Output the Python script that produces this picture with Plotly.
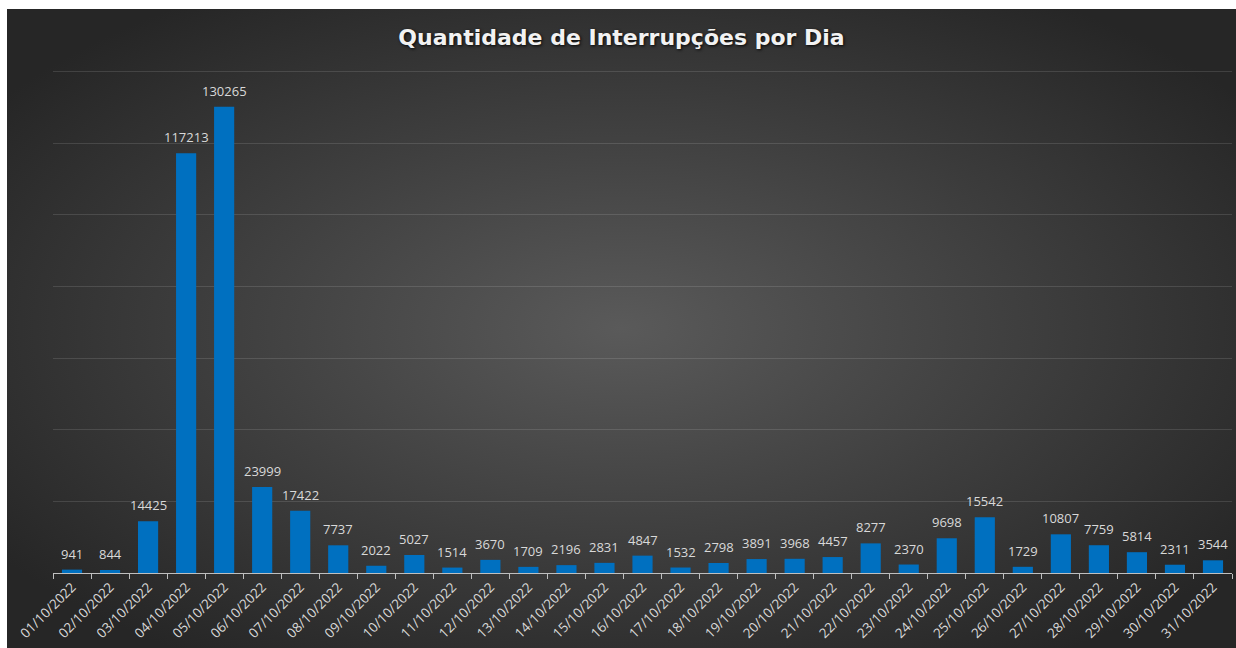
import base64
import plotly.graph_objects as go

dates = [f"{d:02d}/10/2022" for d in range(1, 32)]
values = [941, 844, 14425, 117213, 130265, 23999, 17422, 7737, 2022, 5027,
          1514, 3670, 1709, 2196, 2831, 4847, 1532, 2798, 3891, 3968,
          4457, 8277, 2370, 9698, 15542, 1729, 10807, 7759, 5814, 2311, 3544]
title_text = "Quantidade de Interrupções por Dia"

W, H = 1236, 648
L, R, T, B = 53, 4, 70, 75
PW, PH = W - L - R, H - T - B
BX, BY = 7, 9  # dark panel origin

svg = f'''<svg xmlns="http://www.w3.org/2000/svg" width="{W}" height="{H}" viewBox="0 0 {W} {H}" preserveAspectRatio="none">
<defs><radialGradient id="g" cx="50%" cy="50%" r="62%" gradientUnits="objectBoundingBox">
<stop offset="0" stop-color="#5a5a5a"/><stop offset="1" stop-color="#262626"/></radialGradient></defs>
<rect width="{W}" height="{H}" fill="url(#g)"/></svg>'''
src = "data:image/svg+xml;base64," + base64.b64encode(svg.encode()).decode()

fig = go.Figure()
fig.add_trace(go.Bar(x=dates, y=values, marker=dict(color="#0070C0", line=dict(width=0)),
                     hoverinfo="x+y"))

for d, v in zip(dates, values):
    fig.add_annotation(x=d, y=v, text=str(v), showarrow=False, yanchor="middle",
                       yshift=16, font=dict(family="Open Sans", size=13, color="#d9d9d9"))

fig.update_layout(
    width=W, height=H,
    margin=dict(l=L, r=R, t=T, b=B),
    paper_bgcolor="white",
    plot_bgcolor="rgba(0,0,0,0)",
    bargap=0.47,
    showlegend=False,
    title=dict(text=title_text, x=(BX + (W - BX) / 2) / W, xref="container", xanchor="center",
               y=1 - 37 / H, yanchor="middle",
               font=dict(family="DejaVu Sans", size=22, color="#f2f2f2", weight="bold",
                         shadow="1px 1px 3px rgba(0,0,0,0.9)")),
    images=[dict(source=src, xref="paper", yref="paper",
                 x=(BX - L) / PW, y=(H - B - BY) / PH,
                 sizex=(W - BX) / PW, sizey=(H - BY) / PH,
                 xanchor="left", yanchor="top", sizing="stretch", layer="below")],
    xaxis=dict(type="category", tickangle=-45, tickson="boundaries", ticks="outside",
               ticklen=5, tickcolor="#bfbfbf", showline=True, linecolor="#bfbfbf", linewidth=1,
               showgrid=False, tickfont=dict(family="Open Sans", size=13.5, color="#d9d9d9")),
    yaxis=dict(range=[0, 140500], tickvals=[20000, 40000, 60000, 80000, 100000, 120000, 140000],
               showticklabels=False, showgrid=True,
               gridcolor="rgba(255,255,255,0.12)", gridwidth=1, zeroline=False, showline=False),
)

fig.write_html("out.html", config={"displayModeBar": False},
               post_script="document.body.style.margin='0';document.body.style.overflow='hidden';")
